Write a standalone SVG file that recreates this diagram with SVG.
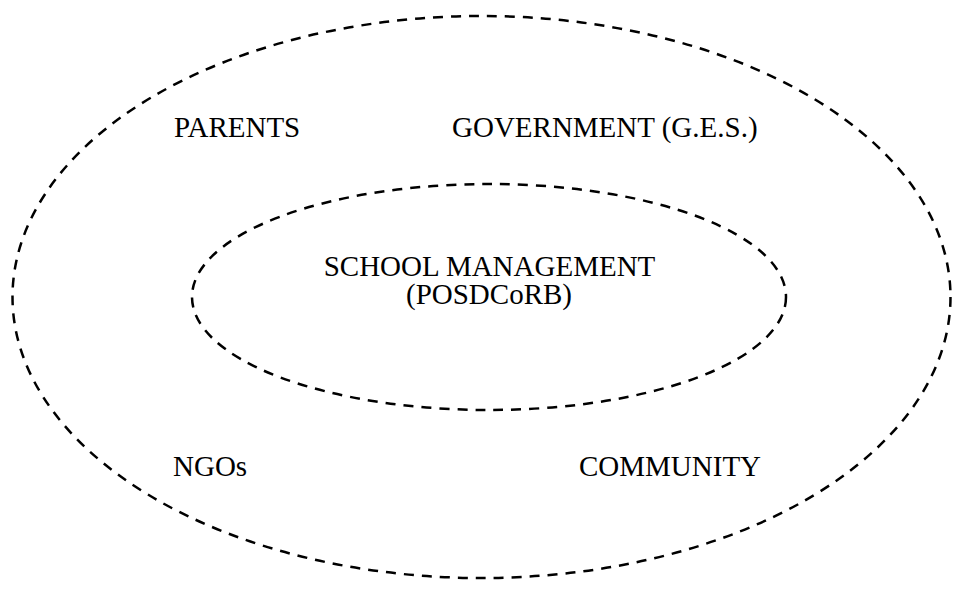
<svg xmlns="http://www.w3.org/2000/svg" width="964" height="593" viewBox="0 0 964 593">
<style>
.ring{fill:none;stroke:#000;stroke-width:2.5;stroke-dasharray:10 8}
.t{font-family:"Liberation Serif","Times New Roman",serif;font-size:29px;fill:#000}
</style>
<rect width="964" height="593" fill="#fff"/>
<g id="connectors"></g>
<g id="outer"><ellipse class="ring" cx="481.5" cy="297" rx="469" ry="281"/></g>
<g id="inner"><ellipse class="ring" cx="489" cy="297" rx="297" ry="113"/></g>
<g id="parents"><text class="t" x="174" y="137">PARENTS</text></g>
<g id="government"><text class="t" x="452" y="137">GOVERNMENT (G.E.S.)</text></g>
<g id="school"><text class="t" x="489.5" y="276" text-anchor="middle">SCHOOL MANAGEMENT</text><text class="t" x="489" y="304" text-anchor="middle">(POSDCoRB)</text></g>
<g id="ngos"><text class="t" x="173" y="476">NGOs</text></g>
<g id="community"><text class="t" x="579" y="476">COMMUNITY</text></g>
</svg>
